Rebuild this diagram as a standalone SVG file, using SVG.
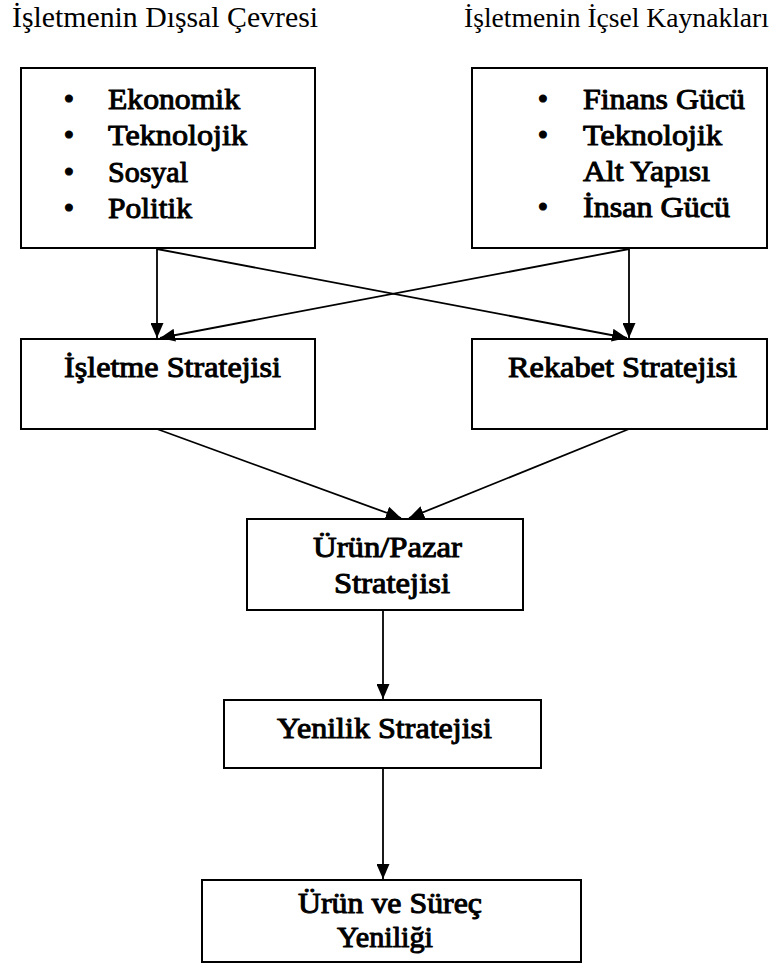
<svg xmlns="http://www.w3.org/2000/svg" width="772" height="973" viewBox="0 0 772 973">
<style>
.box{fill:#fff;stroke:#000;stroke-width:2}
.t{font-family:"Liberation Serif","Times New Roman",serif;font-size:29.5px;fill:#000}
.b{stroke:#000;stroke-width:1;stroke-linejoin:round}
.c{text-anchor:middle}
.con line{stroke:#000;stroke-width:1.8}
</style>
<defs>
<marker id="ah" viewBox="0 0 15 13" refX="15" refY="6.5" markerWidth="15" markerHeight="13" markerUnits="userSpaceOnUse" orient="auto">
<path d="M0,0 L15,6.5 L0,13 Z" fill="#000"/>
</marker>
</defs>
<rect width="772" height="973" fill="#fff"/>
<text class="t" x="12" y="27" textLength="306" lengthAdjust="spacingAndGlyphs">İşletmenin Dışsal Çevresi</text>
<text class="t" x="464" y="27" style="font-size:27.6px">İşletmenin İçsel Kaynakları</text>
<g id="dissal">
<rect class="box" x="21" y="68" width="294" height="180"/>
<text class="t b c" x="69" y="109">•</text>
<text class="t b" x="108" y="109" textLength="132" lengthAdjust="spacingAndGlyphs">Ekonomik</text>
<text class="t b c" x="69" y="145">•</text>
<text class="t b" x="108" y="145" textLength="139" lengthAdjust="spacingAndGlyphs">Teknolojik</text>
<text class="t b c" x="69" y="182">•</text>
<text class="t b" x="108" y="182" textLength="80" lengthAdjust="spacingAndGlyphs">Sosyal</text>
<text class="t b c" x="69" y="218">•</text>
<text class="t b" x="108" y="218" textLength="84" lengthAdjust="spacingAndGlyphs">Politik</text>
</g>
<g id="icsel">
<rect class="box" x="472" y="68" width="295" height="180"/>
<text class="t b c" x="543" y="109">•</text>
<text class="t b" x="583" y="109" textLength="162" lengthAdjust="spacingAndGlyphs">Finans Gücü</text>
<text class="t b c" x="543" y="145">•</text>
<text class="t b" x="583" y="145" textLength="139" lengthAdjust="spacingAndGlyphs">Teknolojik</text>
<text class="t b" x="583" y="181" textLength="127" lengthAdjust="spacingAndGlyphs">Alt Yapısı</text>
<text class="t b c" x="543" y="217">•</text>
<text class="t b" x="583" y="217" textLength="147" lengthAdjust="spacingAndGlyphs">İnsan Gücü</text>
</g>
<g id="isletme">
<rect class="box" x="21" y="339" width="294" height="90"/>
<text class="t b" x="64" y="377" textLength="217" lengthAdjust="spacingAndGlyphs">İşletme Stratejisi</text>
</g>
<g id="rekabet">
<rect class="box" x="472" y="339" width="295" height="90"/>
<text class="t b" x="508" y="377" textLength="229" lengthAdjust="spacingAndGlyphs">Rekabet Stratejisi</text>
</g>
<g id="urunpazar">
<rect class="box" x="247" y="519" width="276" height="91"/>
<text class="t b" x="313" y="557" textLength="149" lengthAdjust="spacingAndGlyphs">Ürün/Pazar</text>
<text class="t b" x="334" y="593" textLength="116" lengthAdjust="spacingAndGlyphs">Stratejisi</text>
</g>
<g id="yenilik">
<rect class="box" x="224" y="700" width="317" height="68"/>
<text class="t b" x="277" y="738" textLength="215" lengthAdjust="spacingAndGlyphs">Yenilik Stratejisi</text>
</g>
<g id="urunsurec">
<rect class="box" x="202" y="880" width="379" height="82"/>
<text class="t b" x="298" y="913" textLength="184" lengthAdjust="spacingAndGlyphs">Ürün ve Süreç</text>
<text class="t b" x="337" y="947" textLength="96" lengthAdjust="spacingAndGlyphs">Yeniliği</text>
</g>
<g class="con">
<line x1="157" y1="249" x2="157" y2="338" marker-end="url(#ah)"/>
<line x1="157" y1="249" x2="627" y2="338" marker-end="url(#ah)"/>
<line x1="629" y1="249" x2="629" y2="338" marker-end="url(#ah)"/>
<line x1="629" y1="249" x2="160" y2="338" marker-end="url(#ah)"/>
<line x1="157" y1="429" x2="401" y2="518" marker-end="url(#ah)"/>
<line x1="629" y1="429" x2="409" y2="518" marker-end="url(#ah)"/>
<line x1="383" y1="610" x2="383" y2="699" marker-end="url(#ah)"/>
<line x1="383" y1="768" x2="383" y2="879" marker-end="url(#ah)"/>
</g>
</svg>
